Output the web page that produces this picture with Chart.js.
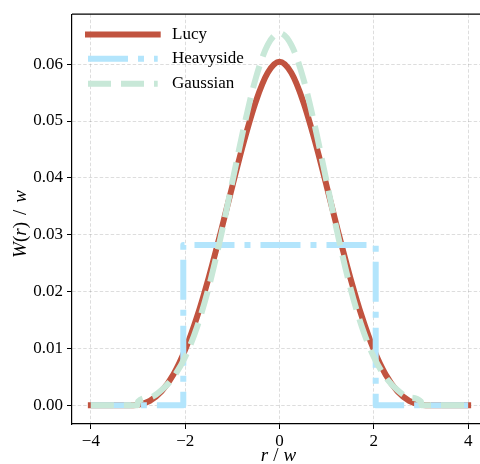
<!DOCTYPE html>
<html>
<head>
<meta charset="utf-8">
<script src="https://cdn.jsdelivr.net/npm/chart.js@4"></script>
<style>
  html, body { margin: 0; padding: 0; background: #fff; overflow: hidden; }
  #wrap { width: 500px; height: 464px; }
</style>
</head>
<body>
<div id="wrap"><canvas id="kernelChart" width="500" height="464"></canvas></div>
<script>
// values
const r = [-4, -3.75, -3.5, -3.25, -3, -2.75, -2.5, -2.25, -2, -1.75, -1.5, -1.25, -1, -0.75, -0.5, -0.25,
           0, 0.25, 0.5, 0.75, 1, 1.25, 1.5, 1.75, 2, 2.25, 2.5, 2.75, 3, 3.25, 3.5, 3.75, 4];
const lucy = [0, 0, 0, 0, 0.0001, 0.00078, 0.00246, 0.00541, 0.00978, 0.01553, 0.02249, 0.03032, 0.03854, 0.04653, 0.05348, 0.05847,
              0.0604, 0.05847, 0.05348, 0.04653, 0.03854, 0.03032, 0.02249, 0.01553, 0.00978, 0.00541, 0.00246, 0.00078, 0.0001, 0, 0, 0, 0];

const gaussR = [-4, -3.75, -3.5, -3.25, -3.01, -3, -2.75, -2.5, -2.25, -2, -1.75, -1.5, -1.25, -1, -0.75, -0.5, -0.25,
                0, 0.25, 0.5, 0.75, 1, 1.25, 1.5, 1.75, 2, 2.25, 2.5, 2.75, 3, 3.01, 3.25, 3.5, 3.75, 4];
const gauss = [0, 0, 0, 0, 0, 0.00066, 0.00138, 0.0027, 0.00495, 0.0085, 0.01372, 0.02077, 0.02949, 0.0393, 0.04912, 0.05761, 0.0634,
               0.06545, 0.0634, 0.05761, 0.04912, 0.0393, 0.02949, 0.02077, 0.01372, 0.0085, 0.00495, 0.0027, 0.00138, 0.00066, 0, 0, 0, 0, 0];

const heavyR = [-4, -2.04, -2.04, 2.04, 2.04, 4];
const heavy = [0, 0, 0.0282, 0.0282, 0, 0];

const xTicks = [-4, -2, 0, 2, 4];
const yTicks = [0, 0.01, 0.02, 0.03, 0.04, 0.05, 0.06];

const seriesNames = ['Lucy', 'Heavyside', 'Gaussian'];
const colors = ['#c1533f', '#b3e5fc', '#c8e8d8'];
const dashes = [[], [40, 10, 6, 10], [23, 10]];

const SERIF = '"Liberation Serif", "Times New Roman", serif';

function pts(xs, ys) {
  return xs.map((x, i) => ({x: x, y: ys[i]}));
}

// parts: [text, italic] or a number for extra space in px
function drawMixed(ctx, parts, cx, cy, rotate, size) {
  ctx.save();
  ctx.translate(cx, cy);
  if (rotate) ctx.rotate(-Math.PI / 2);
  ctx.fillStyle = '#000';
  ctx.textBaseline = 'middle';
  ctx.textAlign = 'left';
  const fontOf = p => (p[1] ? 'italic ' : '') + size + 'px ' + SERIF;
  let widths = parts.map(p => {
    if (typeof p == 'number') return p;
    ctx.font = fontOf(p);
    return ctx.measureText(p[0]).width;
  });
  let total = widths.reduce((a, b) => a + b, 0);
  let x = -total / 2;
  parts.forEach((p, i) => {
    if (typeof p != 'number') {
      ctx.font = fontOf(p);
      ctx.fillText(p[0], x, 0);
    }
    x += widths[i];
  });
  ctx.restore();
}

const framePlugin = {
  id: 'frameAndLegend',
  afterDraw(chart) {
    const ctx = chart.ctx;
    const a = chart.chartArea;
    // top + right spines
    ctx.save();
    ctx.strokeStyle = '#000';
    ctx.lineWidth = 1.2;
    ctx.beginPath();
    ctx.moveTo(a.left, a.top);
    ctx.lineTo(a.right, a.top);
    ctx.lineTo(a.right, a.bottom);
    ctx.stroke();
    ctx.restore();

    // legend
    const rows = [34.5, 58.7, 83.7];
    for (let i = 0; i < 3; i++) {
      ctx.save();
      ctx.strokeStyle = colors[i];
      ctx.lineWidth = 6;
      ctx.lineCap = i == 0 ? 'square' : 'butt';
      ctx.setLineDash(dashes[i]);
      ctx.beginPath();
      ctx.moveTo(88, rows[i]);
      ctx.lineTo(157.7, rows[i]);
      ctx.stroke();
      ctx.restore();
      ctx.save();
      ctx.fillStyle = '#000';
      ctx.font = '17px ' + SERIF;
      ctx.textBaseline = 'middle';
      ctx.fillText(seriesNames[i], 172, rows[i]);
      ctx.restore();
    }

    // axis titles
    drawMixed(ctx, [['W', true], ['(', false], ['r', true], [')', false], 7, ['/', false], 7, ['w', true]], 21, 224, true, 19);
    drawMixed(ctx, [['r', true], 5, ['/', false], 5, ['w', true]], (a.left + a.right) / 2 - 1, 456, false, 19);
  }
};

const lineDefaults = {pointRadius: 0, borderWidth: 6, fill: false, borderJoinStyle: 'round'};

new Chart(document.getElementById('kernelChart'), {
  type: 'line',
  data: {
    datasets: [
      Object.assign({}, lineDefaults, {
        label: seriesNames[0], data: pts(r, lucy), borderColor: colors[0],
        borderCapStyle: 'square', cubicInterpolationMode: 'monotone', order: 3
      }),
      Object.assign({}, lineDefaults, {
        label: seriesNames[1], data: pts(heavyR, heavy), borderColor: colors[1],
        borderDash: dashes[1], tension: 0, order: 2
      }),
      Object.assign({}, lineDefaults, {
        label: seriesNames[2], data: pts(gaussR, gauss), borderColor: colors[2],
        borderDash: dashes[2], cubicInterpolationMode: 'monotone', order: 1
      })
    ]
  },
  options: {
    responsive: false,
    animation: false,
    devicePixelRatio: 1,
    layout: {padding: {left: 0, top: 12, right: 13, bottom: 0}},
    plugins: {legend: {display: false}, tooltip: {enabled: false}},
    scales: {
      x: {
        type: 'linear', min: -4.4, max: 4.4,
        afterBuildTicks: s => { s.ticks = xTicks.map(v => ({value: v})); },
        afterFit: s => { s.height = 40; },
        ticks: {
          color: '#000', font: {family: SERIF, size: 17}, padding: 2, maxRotation: 0, autoSkip: false,
          callback: v => v < 0 ? '\u2212' + Math.abs(v) : String(v)
        },
        grid: {color: 'rgba(0,0,0,0.17)', lineWidth: 0.8, tickLength: 5, tickColor: '#000', tickWidth: 1, tickBorderDash: []},
        border: {color: '#000', width: 1.2, dash: [3.5, 2]}
      },
      y: {
        min: -0.00328, max: 0.06878,
        afterBuildTicks: s => { s.ticks = yTicks.map(v => ({value: v})); },
        afterFit: s => { s.width = 72; },
        ticks: {
          color: '#000', font: {family: SERIF, size: 17}, padding: 4,
          callback: v => v.toFixed(2)
        },
        grid: {color: 'rgba(0,0,0,0.17)', lineWidth: 0.8, tickLength: 5, tickColor: '#000', tickWidth: 1, tickBorderDash: []},
        border: {color: '#000', width: 1.2, dash: [3.5, 2]}
      }
    }
  },
  plugins: [framePlugin]
});
</script>
</body>
</html>
